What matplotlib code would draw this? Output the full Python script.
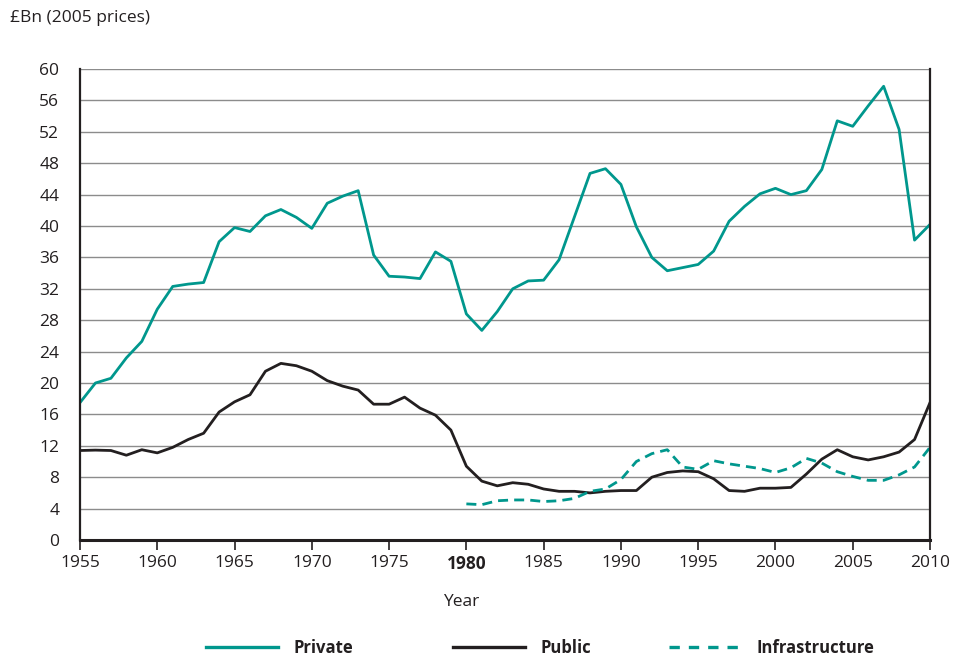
import matplotlib
matplotlib.use("Agg")
import matplotlib.pyplot as plt
from matplotlib.lines import Line2D

plt.rcParams['font.family'] = ['Open Sans', 'DejaVu Sans']

years = list(range(1955, 2011))
private = [17.5, 20.0, 20.6, 23.2, 25.3, 29.4, 32.3, 32.6, 32.8, 38.0,
           39.8, 39.3, 41.3, 42.1, 41.1, 39.7, 42.9, 43.8, 44.5, 36.3,
           33.6, 33.5, 33.3, 36.7, 35.5, 28.8, 26.7, 29.1, 32.0, 33.0,
           33.1, 35.7, 41.2, 46.7, 47.3, 45.3, 39.9, 36.0, 34.3, 34.7,
           35.1, 36.8, 40.6, 42.5, 44.1, 44.8, 44.0, 44.5, 47.2, 53.4,
           52.7, 55.3, 57.8, 52.3, 38.2, 40.2]
public = [11.4, 11.45, 11.4, 10.8, 11.5, 11.1, 11.8, 12.8, 13.6, 16.3,
          17.6, 18.5, 21.5, 22.5, 22.2, 21.5, 20.3, 19.6, 19.1, 17.3,
          17.3, 18.2, 16.8, 15.9, 14.0, 9.4, 7.5, 6.9, 7.3, 7.1,
          6.5, 6.2, 6.2, 6.0, 6.2, 6.3, 6.3, 8.0, 8.6, 8.8,
          8.7, 7.8, 6.3, 6.2, 6.6, 6.6, 6.7, 8.4, 10.3, 11.5,
          10.6, 10.2, 10.6, 11.2, 12.8, 17.5]
infra_years = list(range(1980, 2011))
infrastructure = [4.6, 4.5, 5.0, 5.1, 5.1, 4.9, 5.0, 5.3, 6.2, 6.5,
                  7.7, 10.0, 11.0, 11.5, 9.3, 9.0, 10.1, 9.7, 9.4, 9.1,
                  8.6, 9.2, 10.4, 9.8, 8.7, 8.1, 7.6, 7.6, 8.3, 9.3,
                  11.8]
series_names = ['Private', 'Public', 'Infrastructure']
x_ticks = list(range(1955, 2011, 5))
y_ticks = list(range(0, 61, 4))

teal = '#00978D'
dark = '#231F20'
grid_c = '#8C8C8C'
text_c = '#231F20'

fig = plt.figure(figsize=(9.54, 6.58), dpi=100)
ax = fig.add_axes([80/954, 1-540/658, 850/954, 471/658])

ax.plot(years, private, color=teal, lw=2.0)
ax.plot(years, public, color=dark, lw=2.0)
ax.plot(infra_years, infrastructure, color=teal, lw=2.0, dashes=(3.6, 2.2))

ax.set_xlim(1955, 2010)
ax.set_ylim(0, 60)
ax.set_yticks(y_ticks)
ax.set_xticks(x_ticks)
ax.set_xticklabels([str(t) for t in x_ticks])
for lab in ax.get_xticklabels():
    if lab.get_text() == '1980':
        lab.set_fontweight('bold')
ax.tick_params(axis='y', length=0, pad=15, labelsize=12.5, colors=text_c)
ax.tick_params(axis='x', length=7, width=1.2, direction='out', pad=4,
               labelsize=12.5, colors=text_c)
ax.yaxis.grid(True, color=grid_c, lw=1.0)
ax.set_axisbelow(True)
for s in ['left', 'right']:
    ax.spines[s].set_color(dark)
    ax.spines[s].set_linewidth(1.6)
ax.spines['bottom'].set_color(dark)
ax.spines['bottom'].set_linewidth(2.2)
ax.spines['top'].set_visible(False)

fig.text(10/954, 1-18/658, '£Bn (2005 prices)', fontsize=12.5, color=text_c,
         ha='left', va='center')
fig.text(461/954, 1-602/658, 'Year', fontsize=12.5, color=text_c,
         ha='center', va='center')

handles = [Line2D([], [], color=teal, lw=2.4),
           Line2D([], [], color=dark, lw=2.4),
           Line2D([], [], color=teal, lw=2.4, dashes=(3.1, 2.7))]
anchors = [206, 453, 669]
for h, name, ax0 in zip(handles, series_names, anchors):
    leg = fig.legend([h], [name], loc='center left',
                     bbox_to_anchor=(ax0/954, 1-648/658),
                     frameon=False, borderpad=0, borderaxespad=0,
                     handlelength=4.3, handletextpad=0.95,
                     prop={'weight': 'bold', 'size': 12})
    for t in leg.get_texts():
        t.set_color(text_c)

fig.savefig('out.png', dpi=100)
